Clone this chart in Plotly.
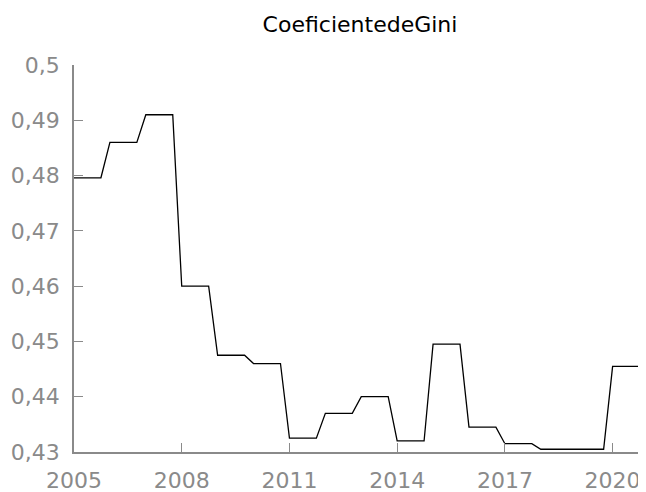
import plotly.graph_objects as go

# quarterly observations (each year's value repeated over its four quarters)
quarters = [
    2005.0, 2005.25, 2005.5, 2005.75,
    2006.0, 2006.25, 2006.5, 2006.75,
    2007.0, 2007.25, 2007.5, 2007.75,
    2008.0, 2008.25, 2008.5, 2008.75,
    2009.0, 2009.25, 2009.5, 2009.75,
    2010.0, 2010.25, 2010.5, 2010.75,
    2011.0, 2011.25, 2011.5, 2011.75,
    2012.0, 2012.25, 2012.5, 2012.75,
    2013.0, 2013.25, 2013.5, 2013.75,
    2014.0, 2014.25, 2014.5, 2014.75,
    2015.0, 2015.25, 2015.5, 2015.75,
    2016.0, 2016.25, 2016.5, 2016.75,
    2017.0, 2017.25, 2017.5, 2017.75,
    2018.0, 2018.25, 2018.5, 2018.75,
    2019.0, 2019.25, 2019.5, 2019.75,
    2020.0, 2020.25, 2020.5, 2020.75,
]
gini = [
    0.4796, 0.4796, 0.4796, 0.4796,
    0.4860, 0.4860, 0.4860, 0.4860,
    0.4910, 0.4910, 0.4910, 0.4910,
    0.4600, 0.4600, 0.4600, 0.4600,
    0.4475, 0.4475, 0.4475, 0.4475,
    0.4460, 0.4460, 0.4460, 0.4460,
    0.4325, 0.4325, 0.4325, 0.4325,
    0.4370, 0.4370, 0.4370, 0.4370,
    0.4400, 0.4400, 0.4400, 0.4400,
    0.4320, 0.4320, 0.4320, 0.4320,
    0.4495, 0.4495, 0.4495, 0.4495,
    0.4345, 0.4345, 0.4345, 0.4345,
    0.4315, 0.4315, 0.4315, 0.4315,
    0.4305, 0.4305, 0.4305, 0.4305,
    0.4305, 0.4305, 0.4305, 0.4305,
    0.4455, 0.4455, 0.4455, 0.4455,
]
x_ticks = [2005, 2008, 2011, 2014, 2017, 2020]
y_ticks = [0.43, 0.44, 0.45, 0.46, 0.47, 0.48, 0.49, 0.5]
y_labels = ["0,43", "0,44", "0,45", "0,46", "0,47", "0,48", "0,49", "0,5"]

fig = go.Figure()
fig.add_trace(go.Scatter(x=quarters, y=gini, mode="lines",
                         line=dict(color="black", width=1.3),
                         showlegend=False))

grey = "#8a8a8a"
# page body adds an 8px margin, so the figure is sized to fill the rest
fig.update_layout(
    width=638, height=484,
    margin=dict(l=66, r=0, t=57, b=40),
    paper_bgcolor="white", plot_bgcolor="white",
    font=dict(family="DejaVu Sans", size=22, color=grey),
    title=dict(text="CoeficientedeGini", x=0.5, xref="paper", y=0.967,
               yanchor="middle", automargin=False,
               font=dict(family="DejaVu Sans", size=22, color="black")),
    xaxis=dict(range=[2005, 2020.93], tickvals=x_ticks, ticks="inside",
               ticklen=9, tickcolor=grey, showline=True, linecolor=grey,
               linewidth=1.5, showgrid=False, zeroline=False,
               ticklabelstandoff=8, automargin=False),
    yaxis=dict(range=[0.43, 0.5], tickvals=y_ticks, ticktext=y_labels,
               ticks="inside", ticklen=9, tickcolor=grey, showline=True,
               linecolor=grey, linewidth=1.5, showgrid=False,
               zeroline=False, ticklabelstandoff=8, automargin=False),
)

fig.write_html("out.html")
